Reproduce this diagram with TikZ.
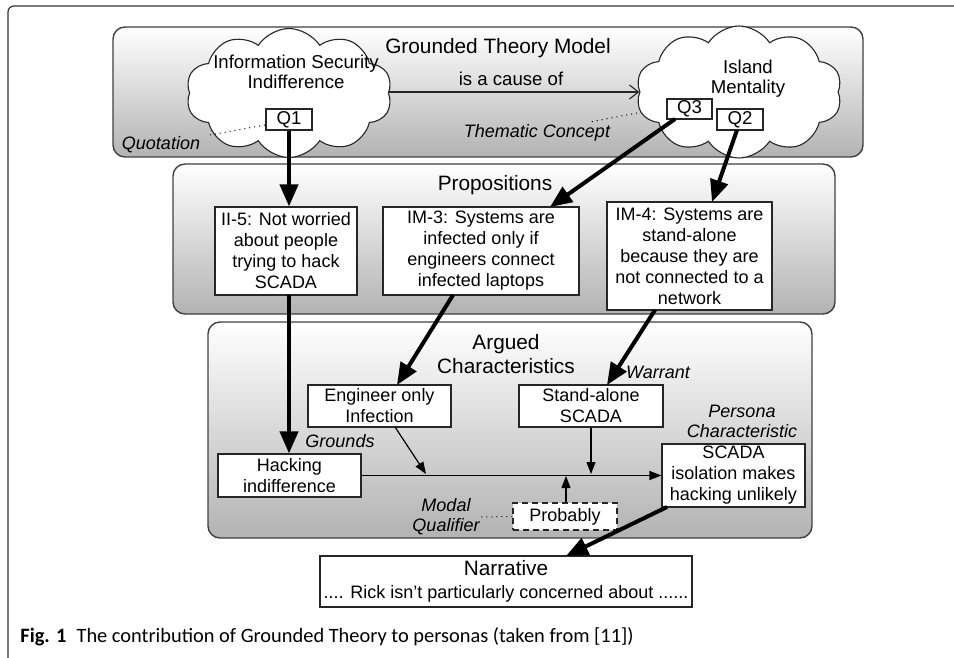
\documentclass[tikz,border=0pt]{standalone}
\usepackage{fontspec}
\setmainfont{Liberation Sans}
\newfontfamily\capfont{Carlito}
\usetikzlibrary{shapes.symbols,arrows.meta,calc}
\begin{document}
\begin{tikzpicture}[x=0.5pt,y=-0.5pt,
  sz/.style 2 args={minimum width=#1*0.5pt, minimum height=#2*0.5pt},
  panel/.style={draw=black!75, line width=0.7pt, rounded corners=6pt, top color=white, bottom color=black!30, inner sep=0pt},
  pbox/.style={draw=black!85, line width=0.55pt, fill=white, inner sep=0pt, align=center, font=\fontsize{9}{10.5}\selectfont},
  qbox/.style={draw=black!85, line width=0.55pt, fill=white, inner sep=0pt, font=\fontsize{9.3}{10}\selectfont},
  ptitle/.style={inner sep=0pt, align=center, font=\fontsize{10.4}{12}\selectfont},
  lbl/.style={inner sep=0pt, align=center, font=\fontsize{9}{10}\selectfont\itshape},
  ctext/.style={inner sep=0pt, align=center, font=\fontsize{9.3}{10}\selectfont},
  cloudnode/.style={cloud, cloud puffs=10, cloud puff arc=115, cloud ignores aspect, draw=black!85, line width=0.55pt, fill=white, inner sep=0pt},
  thick arrow/.style={line width=2pt, -{Triangle[length=11pt,width=9pt]}},
  thin arrow/.style={line width=0.6pt, -{Triangle[length=6pt,width=4.5pt]}},
  dotline/.style={line width=0.5pt, dotted}
]
\useasboundingbox (0,0) rectangle (954,658);
% outer frame
\coordinate (fA) at (8,658);
\coordinate (fB) at (8,6);
\coordinate (fC) at (954,6);
\draw[black!80, line width=0.6pt, rounded corners=3pt] (fA) -- (fB) -- (fC);

% panels
\node[panel, sz={750}{130}] (gtm) at (488,92) {};
\node[panel, sz={662}{150}] (prop) at (504,239) {};
\node[panel, sz={604}{216}] (arg) at (510,430) {};

% panel titles
\node[ptitle] (gtmT) at (498,48) {Grounded Theory Model};
\node[ptitle] (propT) at (495,185) {Propositions};
\node[ptitle] (argT) at (506,354) {Argued\\Characteristics};

% clouds
\node[cloudnode, sz={206}{129}] (c1) at (289,93) {};
\node[cloudnode, sz={206}{132}] (c2) at (739,92) {};
\node[ctext] (c1t) at (296,72) {Information Security\\Indifference};
\node[ctext] (c2t) at (748,78.5) {Island\\Mentality};

% quotation boxes
\node[qbox, sz={46}{21}] (q1) at (289,119.5) {Q1};
\node[qbox, sz={45}{20}] (q3) at (689.5,109) {Q3};
\node[qbox, sz={46}{21}] (q2) at (740,119.5) {Q2};

% cause arrow
\node[ctext] (cause) at (511,79) {is a cause of};
\coordinate (causeY) at (0,92);
\draw[line width=0.55pt, black!85, -{Straight Barb[length=4.5pt,width=7pt]}] (c1.east |- causeY) -- (c2.west |- causeY);

% labels in top panel
\node[lbl] (quot) at (161,145) {Quotation};
\node[lbl] (them) at (537,133) {Thematic Concept};
\coordinate (qd1) at (265,125);
\coordinate (qd2) at (210,135);
\draw[dotline] (qd1) -- (qd2);
\coordinate (td1) at (637,113);
\coordinate (td2) at (590,122);
\draw[dotline] (td1) -- (td2);

% propositions
\node[pbox, sz={142}{88}] (ii5) at (286,251) {II-5: Not worried\\about people\\trying to hack\\SCADA};
\node[pbox, sz={196}{88}] (im3) at (481,251) {IM-3: Systems are\\infected only if\\engineers connect\\infected laptops};
\node[pbox, sz={165}{108}] (im4) at (689.5,256) {IM-4: Systems are\\stand-alone\\because they are\\not connected to a\\network};

% argued characteristics
\node[pbox, sz={143}{42}] (eng) at (379.5,406) {Engineer only\\Infection};
\node[pbox, sz={144}{42}] (sta) at (591,406) {Stand-alone\\SCADA};
\node[pbox, sz={143}{43}] (hack) at (289.5,475.5) {Hacking\\indifference};
\node[pbox, sz={143}{63}] (scada) at (733.5,475.5) {SCADA\\isolation makes\\hacking unlikely};
\node[pbox, sz={104}{27}, dashed, dash pattern=on 3pt off 2pt, line width=0.7pt] (prob) at (565,516.5) {Probably};

\node[lbl] (grounds) at (340,441) {Grounds};
\node[lbl] (warrant) at (658,372) {Warrant};
\node[lbl] (persona) at (742,421) {Persona\\Characteristic};
\node[lbl] (modal) at (446,517) {Modal\\Qualifier};

% narrative
\node[pbox, sz={372}{51}] (narr) at (506,581.5) {{\fontsize{10.4}{12}\selectfont Narrative}\\[1pt].... Rick isn\symbol{39}t particularly concerned about ......};

% caption
\node[anchor=west, inner sep=0pt, font=\capfont\fontsize{10.2}{12}\selectfont] (cap) at (20,637) {\textbf{Fig. 1}\enspace The contribution of Grounded Theory to personas (taken from [11])};

% thick arrows
\draw[thick arrow] (q1.south) -- (q1.south |- ii5.north);
\coordinate (q3s) at (675,119);
\coordinate (im3n) at (550,207);
\draw[thick arrow] (q3s) -- (im3n);
\coordinate (q2s) at (737,130);
\coordinate (im4n) at (712,202);
\draw[thick arrow] (q2s) -- (im4n);
\coordinate (ii5s) at (289,295);
\draw[thick arrow] (ii5s) -- (ii5s |- hack.north);
\coordinate (im3s) at (453,295);
\coordinate (engn) at (397,385);
\draw[thick arrow] (im3s) -- (engn);
\coordinate (im4s) at (655,310);
\coordinate (stan) at (607,385);
\draw[thick arrow] (im4s) -- (stan);
\coordinate (scs) at (667,507);
\coordinate (narrn) at (566,556);
\draw[thick arrow] (scs) -- (narrn);

% thin arrows
\draw[thin arrow] (hack.east) -- (scada.west);
\coordinate (engs) at (395,427);
\coordinate (engm) at (426,474);
\draw[thin arrow] (engs) -- (engm);
\coordinate (stam) at (591,474);
\draw[thin arrow] (sta.south) -- (stam);
\coordinate (probm) at (566,476);
\draw[thin arrow] (prob.north -| probm) -- (probm);
\coordinate (md) at (480,517);
\draw[dotline] (prob.west) -- (md);
\end{tikzpicture}
\end{document}
